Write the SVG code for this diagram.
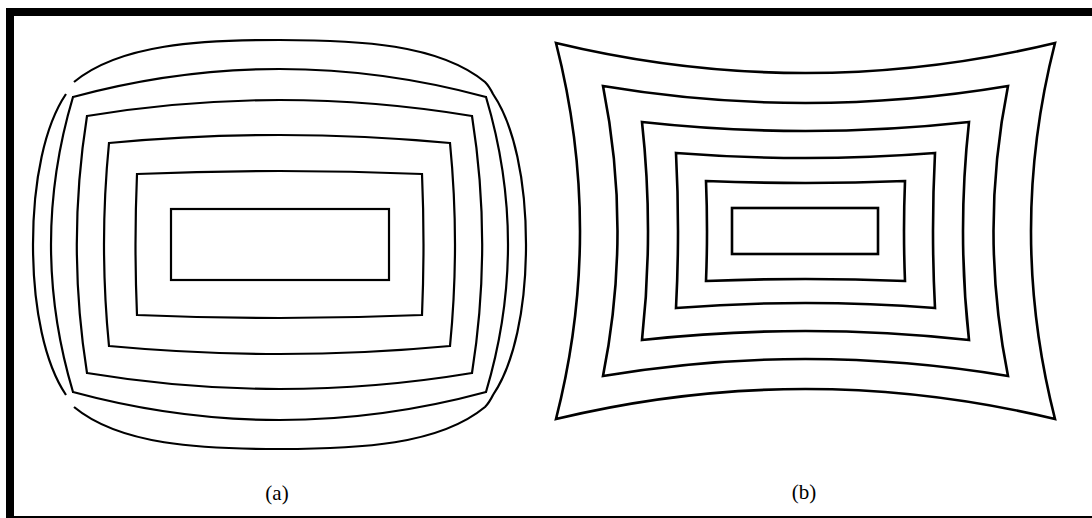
<svg xmlns="http://www.w3.org/2000/svg" width="1092" height="518" viewBox="0 0 1092 518">
<style>
.a{fill:none;stroke:#000;stroke-width:2.2;stroke-linejoin:miter}
.b{fill:none;stroke:#000;stroke-width:2.6;stroke-linejoin:miter;stroke-miterlimit:20}
.lbl{font-family:"Liberation Serif",serif;font-size:21px;fill:#000;text-anchor:middle}
</style>
<rect x="0" y="0" width="1092" height="518" fill="#fff"/>
<g id="frame" fill="#000">
<rect x="6" y="8" width="1086" height="8"/>
<rect x="6" y="8" width="8" height="510"/>
<rect x="6" y="516" width="1086" height="2"/>
</g>
<g id="barrel">
<path class="a" d="M74,82 C120,44 200,40 279.5,40 C359,40 439,44 485,82 Q489,86 493,94 C514,125 526,180 526,244.5 C526,309 514,364 493,395 Q489,403 485,407 C439,445 359,449 279.5,449 C200,449 120,445 74,407"/>
<path class="a" d="M66,94 C45,125 33,180 33,244.5 C33,309 45,364 66,395"/>
<path class="a" d="M73,97 Q279.5,41 486,97 Q530,244.5 486,392 Q279.5,448 73,392 Q29,244.5 73,97 Z"/>
<path class="a" d="M87,116 Q279.5,84 472,116 Q492.4,244.5 472,373 Q279.5,405 87,373 Q66.6,244.5 87,116 Z"/>
<path class="a" d="M109,143 Q279.5,127 450,143 Q460,244.5 450,346 Q279.5,362 109,346 Q99,244.5 109,143 Z"/>
<path class="a" d="M137,174 Q279.5,168 422,174 Q425,244.5 422,315 Q279.5,321 137,315 Q134,244.5 137,174 Z"/>
<rect class="a" x="171" y="209" width="218" height="71"/>
<text class="lbl" x="277" y="500">(a)</text>
</g>
<g id="pincushion">
<path class="b" d="M556,43 Q805.5,103 1055,43 Q1007,231 1055,419 Q805.5,359 556,419 Q604,231 556,43 Z"/>
<path class="b" d="M603,86 Q805.5,120 1008,86 Q979,231 1008,376 Q805.5,342 603,376 Q632,231 603,86 Z"/>
<path class="b" d="M642,122 Q805.5,140 969,122 Q957,231 969,340 Q805.5,322 642,340 Q654,231 642,122 Z"/>
<path class="b" d="M676,153 Q805.5,163 935,153 Q931,231 935,308 Q805.5,298 676,308 Q680,231 676,153 Z"/>
<path class="b" d="M706,181 Q805.5,185 905,181 Q903,231 905,281 Q805.5,277 706,281 Q708,231 706,181 Z"/>
<rect class="b" x="732" y="208" width="146" height="46"/>
<text class="lbl" x="804" y="499">(b)</text>
</g>
</svg>
